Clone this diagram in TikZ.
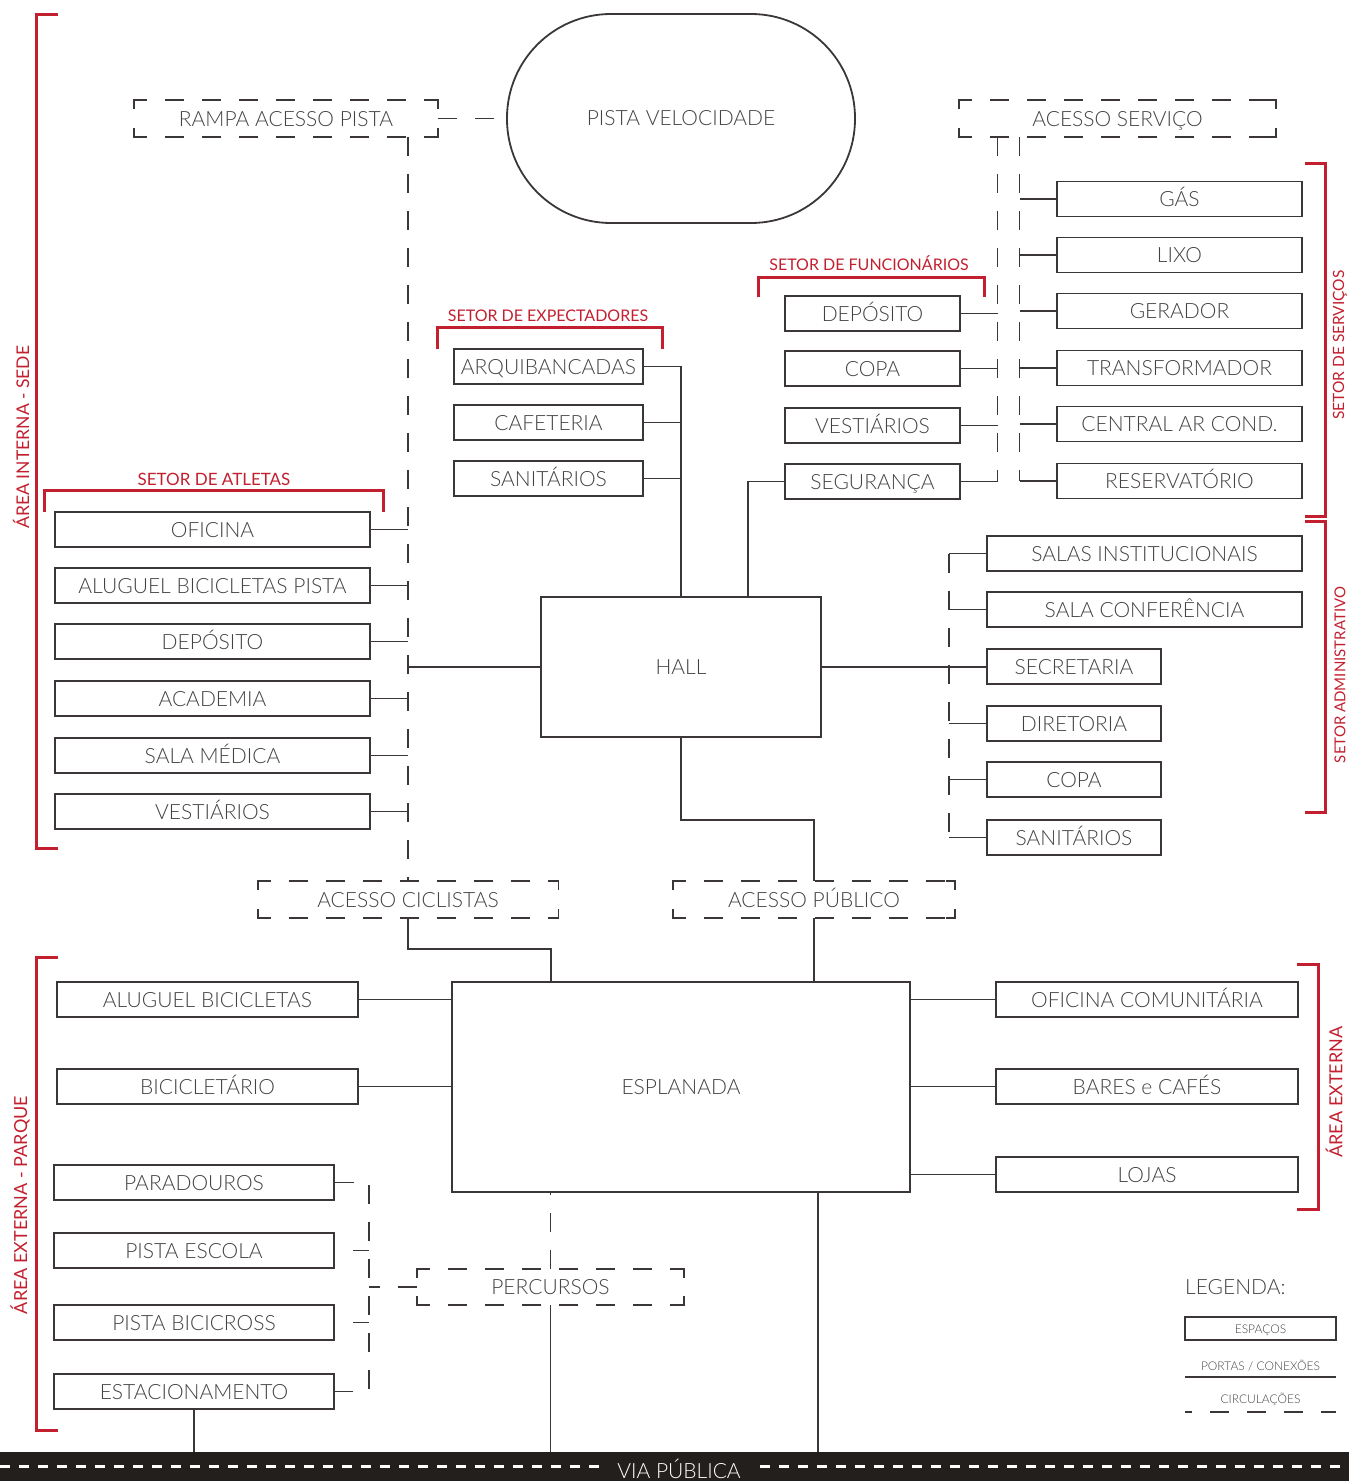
\documentclass[tikz,border=0pt]{standalone}
\usepackage{fontspec}
\setmainfont{Lato}
\IfFontExistsTF{Lato Light}{\newfontfamily\thinfont{Lato Light}}{\newfontfamily\thinfont{Lato}}
\usetikzlibrary{calc}

\definecolor{linegray}{HTML}{3B3737}
\definecolor{textgray}{HTML}{454141}
\definecolor{sectorred}{HTML}{C3202F}
\definecolor{roadblack}{HTML}{231F1C}

\begin{document}
\begin{tikzpicture}[
  x=1pt, y=-1pt,
  every node/.style={inner sep=0pt},
  spacebox/.style={
    rectangle, draw=linegray, line width=1.8pt,
    minimum height=35pt,
    text=textgray, text height=15pt, text depth=0pt,
    font=\thinfont\fontsize{21}{24}\selectfont,
  },
  doorbox/.style={spacebox, draw=none},
  conn/.style={draw=linegray, line width=1.6pt},
  circ/.style={draw=linegray, line width=1.8pt, dash pattern=on 19pt off 18pt},
  bracket/.style={draw=sectorred, line width=3pt},
  sectorlabel/.style={text=sectorred, font=\fontsize{16}{18}\selectfont},
]
\useasboundingbox (0,0) rectangle (1349,1481);

% ----- track and access doors on top -----
\node[draw=linegray, line width=1.8pt, rounded corners=104pt,
  minimum width=348pt, minimum height=209pt, text=textgray, text height=15pt,
  font=\thinfont\fontsize{21}{24}\selectfont] (pista) at (681,118.5) {PISTA VELOCIDADE};
\node[doorbox, minimum width=302pt] (rampa) at (286,118.5) {RAMPA ACESSO PISTA};
\node[doorbox, minimum width=315pt] (servico) at (1117.5,118.5) {ACESSO SERVIÇO};

% ----- setor de atletas -----
\node[spacebox, minimum width=315pt] (oficina) at (212.5,529.5) {OFICINA};
\node[spacebox, minimum width=315pt] (aluguelpista) at (212.5,585.5) {ALUGUEL BICICLETAS PISTA};
\node[spacebox, minimum width=315pt] (deposito) at (212.5,641.5) {DEPÓSITO};
\node[spacebox, minimum width=315pt] (academia) at (212.5,698.5) {ACADEMIA};
\node[spacebox, minimum width=315pt] (salamedica) at (212.5,755.5) {SALA MÉDICA};
\node[spacebox, minimum width=315pt] (vestiarios) at (212.5,811.5) {VESTIÁRIOS};

% ----- setor de expectadores -----
\node[spacebox, minimum width=189pt] (arquibancadas) at (548.5,366.5) {ARQUIBANCADAS};
\node[spacebox, minimum width=189pt] (cafeteria) at (548.5,422.5) {CAFETERIA};
\node[spacebox, minimum width=189pt] (sanitarios) at (548.5,478.5) {SANITÁRIOS};

% ----- setor de funcionarios -----
\node[spacebox, minimum width=175pt] (depositof) at (872.5,313.5) {DEPÓSITO};
\node[spacebox, minimum width=175pt] (copaf) at (872.5,368.5) {COPA};
\node[spacebox, minimum width=175pt] (vestiariosf) at (872.5,425.5) {VESTIÁRIOS};
\node[spacebox, minimum width=175pt] (seguranca) at (872.5,481.5) {SEGURANÇA};

% ----- setor de servicos -----
\node[spacebox, minimum width=245pt] (gas) at (1179.5,199) {GÁS};
\node[spacebox, minimum width=245pt] (lixo) at (1179.5,255) {LIXO};
\node[spacebox, minimum width=245pt] (gerador) at (1179.5,311) {GERADOR};
\node[spacebox, minimum width=245pt] (transformador) at (1179.5,368) {TRANSFORMADOR};
\node[spacebox, minimum width=245pt] (centralar) at (1179.5,424) {CENTRAL AR COND.};
\node[spacebox, minimum width=245pt] (reservatorio) at (1179.5,481) {RESERVATÓRIO};

% ----- setor administrativo -----
\node[spacebox, minimum width=315pt] (salas) at (1144.5,553.5) {SALAS INSTITUCIONAIS};
\node[spacebox, minimum width=315pt] (conferencia) at (1144.5,609.5) {SALA CONFERÊNCIA};
\node[spacebox, minimum width=174pt] (secretaria) at (1074,666.5) {SECRETARIA};
\node[spacebox, minimum width=174pt] (diretoria) at (1074,723.5) {DIRETORIA};
\node[spacebox, minimum width=174pt] (copaa) at (1074,779.5) {COPA};
\node[spacebox, minimum width=174pt] (sanitariosa) at (1074,837.5) {SANITÁRIOS};

% ----- hall and public / cyclist doors -----
\node[spacebox, minimum width=280pt, minimum height=140pt] (hall) at (681,667) {HALL};
\node[doorbox, minimum width=299pt] (ciclistas) at (408,899.5) {ACESSO CICLISTAS};
\node[doorbox, minimum width=280pt] (publico) at (814,899.5) {ACESSO PÚBLICO};

% ----- area externa -----
\node[spacebox, minimum width=458pt, minimum height=210pt] (esplanada) at (681,1087) {ESPLANADA};
\node[spacebox, minimum width=301pt] (aluguel) at (207.5,999.5) {ALUGUEL BICICLETAS};
\node[spacebox, minimum width=301pt] (bicicletario) at (207.5,1086.5) {BICICLETÁRIO};
\node[spacebox, minimum width=302pt] (oficinac) at (1147,999.5) {OFICINA COMUNITÁRIA};
\node[spacebox, minimum width=302pt] (bares) at (1147,1086.5) {BARES e CAFÉS};
\node[spacebox, minimum width=302pt] (lojas) at (1147,1174.5) {LOJAS};
\node[spacebox, minimum width=280pt] (paradouros) at (194,1182.5) {PARADOUROS};
\node[spacebox, minimum width=280pt] (pistaescola) at (194,1250.5) {PISTA ESCOLA};
\node[spacebox, minimum width=280pt] (bicicross) at (194,1322.5) {PISTA BICICROSS};
\node[spacebox, minimum width=280pt] (estacionamento) at (194,1391.5) {ESTACIONAMENTO};
\node[doorbox, minimum width=265pt, minimum height=34pt] (percursos) at (550.5,1287) {PERCURSOS};

% ----- outline of the dashed doors: corners + dashed long sides -----
\foreach \n in {rampa,servico,ciclistas,publico,percursos}{
  \draw[conn, line width=1.8pt] ([xshift=9pt]\n.north west) -- (\n.north west) -- ([yshift=-9pt]\n.north west);
  \draw[conn, line width=1.8pt] ([xshift=-9pt]\n.north east) -- (\n.north east) -- ([yshift=-9pt]\n.north east);
  \draw[conn, line width=1.8pt] ([xshift=9pt]\n.south west) -- (\n.south west) -- ([yshift=9pt]\n.south west);
  \draw[conn, line width=1.8pt] ([xshift=-9pt]\n.south east) -- (\n.south east) -- ([yshift=9pt]\n.south east);
  \draw[circ, dash phase=15pt] ([xshift=9pt]\n.north west) -- ([xshift=-9pt]\n.north east);
  \draw[circ, dash phase=15pt] ([xshift=9pt]\n.south west) -- ([xshift=-9pt]\n.south east);
}

% ----- via publica -----
\node[fill=roadblack, minimum width=1349pt, minimum height=29pt, anchor=north west] (via) at (0,1452) {};
\draw[white, line width=2.5pt, dash pattern=on 10pt off 9pt] (via.west) -- (via.east);
\node[fill=roadblack, text=white, inner xsep=10pt, font=\thinfont\fontsize{21}{24}\selectfont] (vianome) at (679,1469) {VIA PÚBLICA};

% ----- circulations (dashed) -----
\coordinate (busF) at ([xshift=-120pt]servico.south);
\coordinate (busS) at ([xshift=-98pt]servico.south);
\coordinate (busA) at (949,553.5);
\coordinate (busP) at (369,1182.5);
\draw[circ] (rampa.east) -- (pista.west);
\draw[circ] (ciclistas.north |- rampa.south) -- (ciclistas.north);
\draw[circ] (busF) -- (busF |- seguranca.east);
\draw[circ] (busS) -- (busS |- reservatorio.west);
\draw[circ] (busA |- salas.west) -- (busA |- sanitariosa.west);
\draw[circ] (paradouros.east) -- (paradouros.east -| busP) -- (busP |- estacionamento.east) -- (estacionamento.east);
\draw[circ, dash phase=19pt] (pistaescola.east) -- (pistaescola.east -| busP);
\draw[circ, dash phase=19pt] (bicicross.east) -- (bicicross.east -| busP);
\draw[circ] (percursos.west) -- (percursos.west -| busP);
\draw[circ] (percursos.north) -- (percursos.north |- esplanada.south);

% ----- connections (solid) -----
\foreach \n in {oficina,aluguelpista,deposito,academia,salamedica,vestiarios}
  \draw[conn] (\n.east) -- (\n.east -| ciclistas.north);
\draw[conn] (hall.west) -- (hall.west -| ciclistas.north);
\draw[conn] (arquibancadas.east) -| (hall.north);
\draw[conn] (cafeteria.east) -- (cafeteria.east -| hall.north);
\draw[conn] (sanitarios.east) -- (sanitarios.east -| hall.north);
\draw[conn] (seguranca.west) -| ([xshift=67pt]hall.north);
\foreach \n in {depositof,copaf,vestiariosf,seguranca}
  \draw[conn] (\n.east) -- (\n.east -| busF);
\foreach \n in {gas,lixo,gerador,transformador,centralar,reservatorio}
  \draw[conn] (\n.west) -- (\n.west -| busS);
\foreach \n in {salas,conferencia,diretoria,copaa,sanitariosa}
  \draw[conn] (\n.west) -- (\n.west -| busA);
\draw[conn] (hall.east) -- (hall.east -| secretaria.west);
\draw[conn] (hall.south) -- ++(0,82) -| (publico.north);
\draw[conn] (publico.south) -- (publico.south |- esplanada.north);
\draw[conn] (ciclistas.south) -- ++(0,31) -| ([xshift=-130pt]esplanada.north);
\draw[conn] (aluguel.east) -- (aluguel.east -| esplanada.west);
\draw[conn] (bicicletario.east) -- (bicicletario.east -| esplanada.west);
\foreach \n in {oficinac,bares,lojas}
  \draw[conn] (\n.west) -- (\n.west -| esplanada.east);
\draw[conn] (percursos.south) -- (percursos.south |- via.north);
\draw[conn] ([xshift=137pt]esplanada.south) -- ([xshift=137pt]esplanada.south |- via.north);
\draw[conn] (estacionamento.south) -- (estacionamento.south |- via.north);

% ----- red sector brackets -----
\draw[bracket] (58,14) -- (36,14) -- (36,848) -- (58,848);
\draw[bracket] (44,512) -- (44,490) -- (383,490) -- (383,512);
\draw[bracket] (437,349) -- (437,327) -- (662,327) -- (662,349);
\draw[bracket] (758,297) -- (758,277) -- (984,277) -- (984,297);
\draw[bracket] (1305,163) -- (1325,163) -- (1325,516) -- (1305,516);
\draw[bracket] (1305,521) -- (1325,521) -- (1325,812) -- (1305,812);
\draw[bracket] (1297,964) -- (1318,964) -- (1318,1209) -- (1297,1209);
\draw[bracket] (58,957) -- (36,957) -- (36,1430) -- (58,1430);

\node[sectorlabel, rotate=90, font=\fontsize{17.5}{20}\selectfont] (lblsede) at (21,437) {ÁREA INTERNA - SEDE};
\node[sectorlabel, font=\fontsize{17}{20}\selectfont] (lblatletas) at (214,479) {SETOR DE ATLETAS};
\node[sectorlabel] (lblexpect) at (548,316) {SETOR DE EXPECTADORES};
\node[sectorlabel] (lblfunc) at (869,263) {SETOR DE FUNCIONÁRIOS};
\node[sectorlabel, rotate=90, font=\fontsize{15.5}{18}\selectfont] (lblserv) at (1340,345) {SETOR DE SERVIÇOS};
\node[sectorlabel, rotate=90, font=\fontsize{15}{18}\selectfont] (lbladm) at (1340,675) {SETOR ADMINISTRATIVO};
\node[sectorlabel, rotate=90, font=\fontsize{18}{20}\selectfont] (lblext) at (1334,1092) {ÁREA EXTERNA};
\node[sectorlabel, rotate=90, font=\fontsize{18}{20}\selectfont] (lblparque) at (20,1205) {ÁREA EXTERNA - PARQUE};

% ----- legenda -----
\node[anchor=west, text=textgray, font=\thinfont\fontsize{21}{24}\selectfont] (legenda) at (1185,1287) {LEGENDA:};
\node[spacebox, minimum width=151pt, minimum height=23pt, text height=9pt,
  font=\thinfont\fontsize{12}{14}\selectfont] (legesp) at (1260.5,1328.5) {ESPAÇOS};
\node[text=textgray, font=\thinfont\fontsize{12}{14}\selectfont] (legportas) at (1260.5,1366) {PORTAS / CONEXÕES};
\draw[conn] (1185,1377) -- (1336,1377);
\node[text=textgray, font=\thinfont\fontsize{12}{14}\selectfont] (legcirc) at (1260.5,1399) {CIRCULAÇÕES};
\draw[circ, dash phase=12pt] (1185,1412) -- (1336,1412);

\end{tikzpicture}
\end{document}
